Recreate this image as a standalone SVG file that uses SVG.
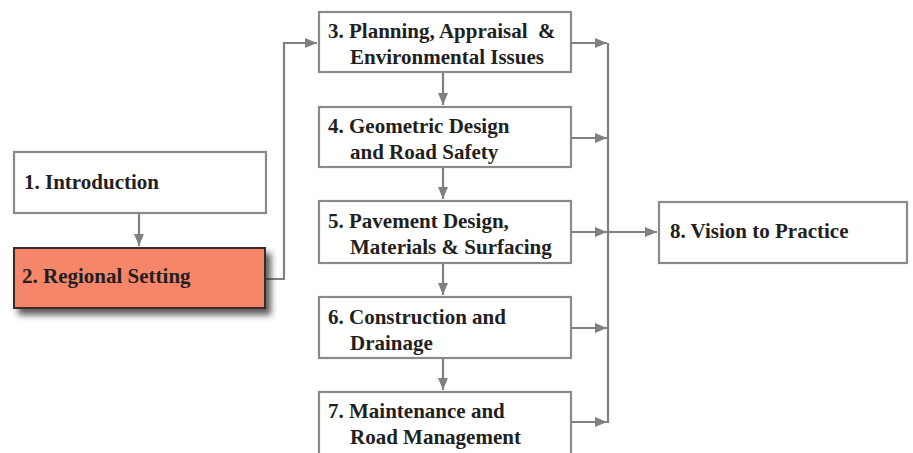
<svg xmlns="http://www.w3.org/2000/svg" width="913" height="453" viewBox="0 0 913 453">
<style>
.box{fill:#fff;stroke:#8a8a8a;stroke-width:2.2}
.t{font-family:"Liberation Serif","Times New Roman",serif;font-weight:bold;font-size:21px;fill:#231f20;white-space:pre}
.c{fill:none;stroke:#808080;stroke-width:2.2}
</style>
<defs>
<marker id="ah" viewBox="0 0 12 10" refX="12" refY="5" markerWidth="12" markerHeight="10" markerUnits="userSpaceOnUse" orient="auto">
<path d="M0,0 L12,5 L0,10 Z" fill="#808080"/>
</marker>
<filter id="sh" x="-10%" y="-20%" width="130%" height="160%">
<feDropShadow dx="5" dy="6" stdDeviation="3" flood-color="#2a2a2a" flood-opacity="0.75"/>
</filter>
</defs>
<rect width="913" height="453" fill="#fff"/>
<g id="connectors">
<line class="c" x1="139" y1="214" x2="139" y2="246" marker-end="url(#ah)"/>
<polyline class="c" points="266,279 284,279 284,43 317,43" marker-end="url(#ah)"/>
<line class="c" x1="443" y1="73" x2="443" y2="105" marker-end="url(#ah)"/>
<line class="c" x1="443" y1="168" x2="443" y2="199" marker-end="url(#ah)"/>
<line class="c" x1="443" y1="264" x2="443" y2="295" marker-end="url(#ah)"/>
<line class="c" x1="443" y1="359" x2="443" y2="390" marker-end="url(#ah)"/>
<line class="c" x1="608" y1="43" x2="608" y2="423"/>
<line class="c" x1="572" y1="43" x2="607" y2="43" marker-end="url(#ah)"/>
<line class="c" x1="572" y1="138" x2="607" y2="138" marker-end="url(#ah)"/>
<line class="c" x1="572" y1="232" x2="607" y2="232" marker-end="url(#ah)"/>
<line class="c" x1="572" y1="328" x2="607" y2="328" marker-end="url(#ah)"/>
<line class="c" x1="572" y1="422" x2="607" y2="422" marker-end="url(#ah)"/>
<line class="c" x1="608" y1="232" x2="657" y2="232" marker-end="url(#ah)"/>
</g>
<g id="n1">
<rect class="box" x="14" y="152" width="252" height="61"/>
<text class="t" x="24" y="189">1. Introduction</text>
</g>
<g id="n2">
<rect x="14" y="248" width="251" height="60" fill="#f5866a" stroke="#3a2a2a" stroke-width="2" filter="url(#sh)"/>
<text class="t" x="22" y="283">2. Regional Setting</text>
</g>
<g id="n3">
<rect class="box" x="319" y="12" width="252" height="60"/>
<text class="t" x="328" y="38" xml:space="preserve">3. Planning, Appraisal  &amp;</text>
<text class="t" x="350" y="64">Environmental Issues</text>
</g>
<g id="n4">
<rect class="box" x="319" y="107" width="252" height="60"/>
<text class="t" x="328" y="133">4. Geometric Design</text>
<text class="t" x="350" y="159">and Road Safety</text>
</g>
<g id="n5">
<rect class="box" x="319" y="201" width="252" height="62"/>
<text class="t" x="328" y="228">5. Pavement Design,</text>
<text class="t" x="350" y="254">Materials &amp; Surfacing</text>
</g>
<g id="n6">
<rect class="box" x="319" y="297" width="252" height="61"/>
<text class="t" x="328" y="324">6. Construction and</text>
<text class="t" x="350" y="350">Drainage</text>
</g>
<g id="n7">
<rect class="box" x="319" y="392" width="252" height="70"/>
<text class="t" x="328" y="418">7. Maintenance and</text>
<text class="t" x="350" y="444">Road Management</text>
</g>
<g id="n8">
<rect class="box" x="659" y="202" width="248" height="61"/>
<text class="t" x="670" y="238">8. Vision to Practice</text>
</g>
</svg>
